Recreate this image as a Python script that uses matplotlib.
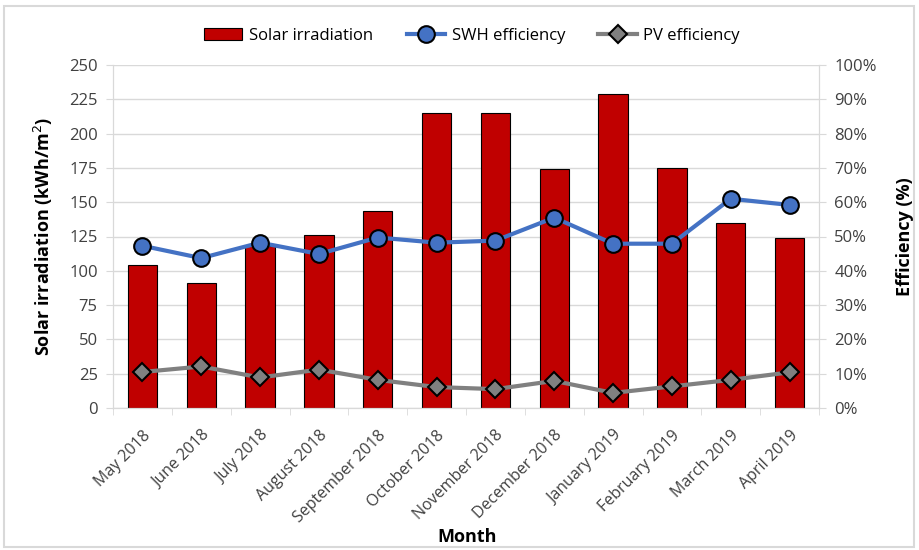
import matplotlib
matplotlib.use("Agg")
import matplotlib.pyplot as plt
from matplotlib.patches import Rectangle
from matplotlib.ticker import FuncFormatter

months = ["May 2018", "June 2018", "July 2018", "August 2018", "September 2018",
          "October 2018", "November 2018", "December 2018", "January 2019",
          "February 2019", "March 2019", "April 2019"]
solar_irradiation = [104, 91, 118, 126, 143.5, 215, 215, 174, 229, 175, 135, 124]
swh_efficiency = [47.3, 43.7, 48.2, 44.9, 49.7, 48.2, 48.8, 55.5, 47.9, 47.9, 61.0, 59.2]
pv_efficiency = [10.5, 12.1, 8.9, 11.2, 8.2, 6.1, 5.5, 7.9, 4.4, 6.3, 8.2, 10.4]
left_ticks = [0, 25, 50, 75, 100, 125, 150, 175, 200, 225, 250]
right_ticks = [0, 10, 20, 30, 40, 50, 60, 70, 80, 90, 100]

plt.rcParams['font.family'] = ['Open Sans', 'DejaVu Sans']

W, H = 919, 550
fig = plt.figure(figsize=(W / 100, H / 100), dpi=100)
ax = fig.add_axes([113 / W, 1 - 408 / H, (819 - 113) / W, (408 - 65) / H])
ax2 = ax.twinx()

grid_c = "#D9D9D9"
tick_c = "#404040"
x = list(range(len(months)))
bars = ax.bar(x, solar_irradiation, width=0.5, color="#C00000", edgecolor="black",
              linewidth=0.8, label="Solar irradiation", zorder=2)
ax.set_xlim(-0.5, len(months) - 0.5)
ax.set_ylim(0, 250)
ax.set_yticks(left_ticks)
ax.yaxis.grid(True, color=grid_c, linewidth=1)
ax.set_axisbelow(True)
ax.set_xticks(x)
ax.set_xticklabels(months, rotation=45, ha="right", rotation_mode="anchor", fontsize=11.5,
                   color=tick_c)
ax.tick_params(axis="x", length=0, pad=14)
ax.set_xticks([i + 0.5 for i in range(-1, len(months))], minor=True)
ax.tick_params(axis="x", which="minor", length=5, color=grid_c)
ax.tick_params(axis="y", length=5, color=grid_c, labelsize=12, labelcolor=tick_c, pad=6)
for s in ["top"]:
    ax.spines[s].set_visible(False)
    ax2.spines[s].set_visible(False)
for s in ["left", "bottom", "right"]:
    ax.spines[s].set_color(grid_c)
    ax2.spines[s].set_color(grid_c)

l1, = ax2.plot(x, swh_efficiency, color="#4472C4", linewidth=3, marker="o",
               markersize=12, markerfacecolor="#4472C4", markeredgecolor="black",
               markeredgewidth=1.5, label="SWH efficiency", zorder=3)
l2, = ax2.plot(x, pv_efficiency, color="#808080", linewidth=3, marker="D",
               markersize=9, markerfacecolor="#808080", markeredgecolor="black",
               markeredgewidth=1.5, label="PV efficiency", zorder=3)
ax2.set_ylim(0, 100)
ax2.set_yticks(right_ticks)
ax2.yaxis.set_major_formatter(FuncFormatter(lambda v, p: f"{int(v)}%"))
ax2.tick_params(axis="y", length=5, color=grid_c, labelsize=12, labelcolor=tick_c, pad=6)

ax.set_ylabel("Solar irradiation (kWh/m$^2$)", fontsize=13, fontweight="bold", labelpad=10)
ax2.set_ylabel("Efficiency (%)", fontsize=13, fontweight="bold", labelpad=14)
fig.text(467 / W, 1 - 537 / H, "Month", fontsize=13, fontweight="bold", ha="center", va="center")

leg = fig.legend(handles=[bars, l1, l2], loc="center", bbox_to_anchor=(472 / W, 1 - 36 / H),
                 ncol=3, frameon=False, fontsize=12, handlelength=2.3, columnspacing=2,
                 handletextpad=0.4)

fig.patches.append(Rectangle((4 / W, 3 / H), (W - 9) / W, (H - 9) / H, transform=fig.transFigure,
                             fill=False, edgecolor="#D9D9D9", linewidth=1.5))

fig.savefig("out.png", dpi=100)
